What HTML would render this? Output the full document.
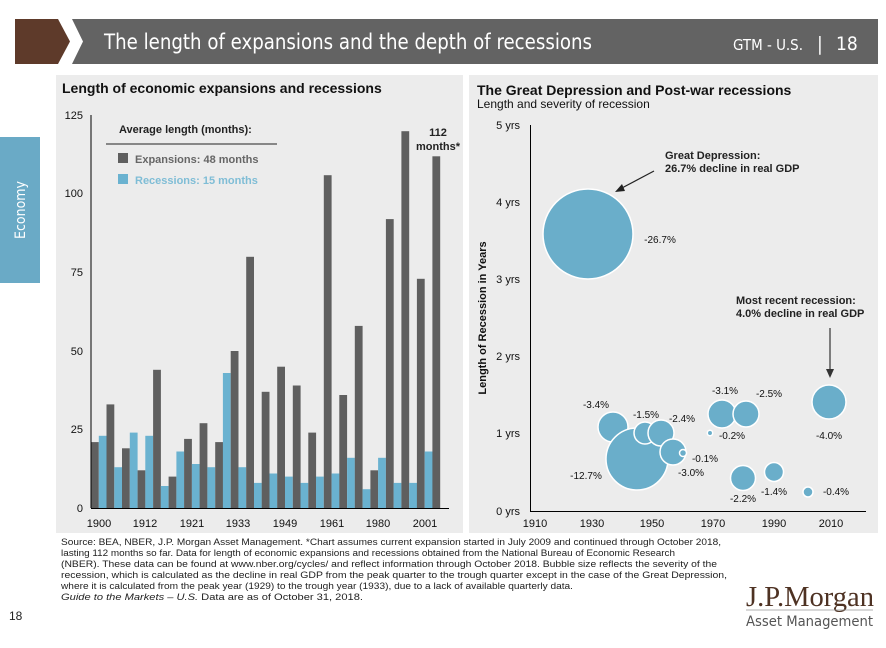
<!DOCTYPE html>
<html><head><meta charset="utf-8"><style>
body{margin:0;width:886px;height:643px;background:#fff;overflow:hidden;font-family:"Liberation Sans",Arial,sans-serif}
</style></head><body>
<svg width="886" height="643" xmlns="http://www.w3.org/2000/svg" font-family="Liberation Sans, Arial, sans-serif">
<polygon points="72,19 878,19 878,64 72,64 83,41.5" fill="#636363"/>
<polygon points="15,19 58,19 70,41.5 58,64 15,64" fill="#5e3a2a"/>
<text x="104" y="49" fill="#fff" font-size="21" font-family="DejaVu Sans Condensed, Liberation Sans Narrow, sans-serif" textLength="488" lengthAdjust="spacingAndGlyphs">The length of expansions and the depth of recessions</text>
<text x="733" y="50" fill="#fff" font-size="15" font-family="DejaVu Sans Condensed, sans-serif" textLength="70" lengthAdjust="spacingAndGlyphs">GTM - U.S.</text>
<text x="817" y="50" fill="#fff" font-size="19" font-family="DejaVu Sans Condensed, sans-serif">|</text>
<text x="836" y="50" fill="#fff" font-size="19" font-family="DejaVu Sans Condensed, sans-serif">18</text>
<rect x="0" y="137" width="40" height="146" fill="#6aaac6"/>
<text transform="translate(25,210) rotate(-90)" fill="#fff" font-size="14" text-anchor="middle" font-family="DejaVu Sans Condensed, sans-serif">Economy</text>
<rect x="56" y="75" width="407" height="458" fill="#ececec"/>
<rect x="469" y="75" width="409" height="458" fill="#ececec"/>
<text x="62" y="93" font-size="14" font-weight="bold" fill="#111">Length of economic expansions and recessions</text>
<text x="477" y="95" font-size="14" font-weight="bold" fill="#111">The Great Depression and Post-war recessions</text>
<text x="477" y="108" font-size="12" fill="#111">Length and severity of recession</text>
<g>
<rect x="91.0" y="442.1" width="7.8" height="65.9" fill="#5f5f5f"/>
<rect x="98.8" y="435.8" width="7.8" height="72.2" fill="#6ab2d0"/>
<rect x="106.5" y="404.4" width="7.8" height="103.6" fill="#5f5f5f"/>
<rect x="114.3" y="467.2" width="7.8" height="40.8" fill="#6ab2d0"/>
<rect x="122.0" y="448.3" width="7.8" height="59.7" fill="#5f5f5f"/>
<rect x="129.8" y="432.6" width="7.8" height="75.4" fill="#6ab2d0"/>
<rect x="137.6" y="470.3" width="7.8" height="37.7" fill="#5f5f5f"/>
<rect x="145.3" y="435.8" width="7.8" height="72.2" fill="#6ab2d0"/>
<rect x="153.1" y="369.8" width="7.8" height="138.2" fill="#5f5f5f"/>
<rect x="160.8" y="486.0" width="7.8" height="22.0" fill="#6ab2d0"/>
<rect x="168.6" y="476.6" width="7.8" height="31.4" fill="#5f5f5f"/>
<rect x="176.4" y="451.5" width="7.8" height="56.5" fill="#6ab2d0"/>
<rect x="184.1" y="438.9" width="7.8" height="69.1" fill="#5f5f5f"/>
<rect x="191.9" y="464.0" width="7.8" height="44.0" fill="#6ab2d0"/>
<rect x="199.6" y="423.2" width="7.8" height="84.8" fill="#5f5f5f"/>
<rect x="207.4" y="467.2" width="7.8" height="40.8" fill="#6ab2d0"/>
<rect x="215.2" y="442.1" width="7.8" height="65.9" fill="#5f5f5f"/>
<rect x="222.9" y="373.0" width="7.8" height="135.0" fill="#6ab2d0"/>
<rect x="230.7" y="351.0" width="7.8" height="157.0" fill="#5f5f5f"/>
<rect x="238.4" y="467.2" width="7.8" height="40.8" fill="#6ab2d0"/>
<rect x="246.2" y="256.8" width="7.8" height="251.2" fill="#5f5f5f"/>
<rect x="254.0" y="482.9" width="7.8" height="25.1" fill="#6ab2d0"/>
<rect x="261.7" y="391.8" width="7.8" height="116.2" fill="#5f5f5f"/>
<rect x="269.5" y="473.5" width="7.8" height="34.5" fill="#6ab2d0"/>
<rect x="277.2" y="366.7" width="7.8" height="141.3" fill="#5f5f5f"/>
<rect x="285.0" y="476.6" width="7.8" height="31.4" fill="#6ab2d0"/>
<rect x="292.8" y="385.5" width="7.8" height="122.5" fill="#5f5f5f"/>
<rect x="300.5" y="482.9" width="7.8" height="25.1" fill="#6ab2d0"/>
<rect x="308.3" y="432.6" width="7.8" height="75.4" fill="#5f5f5f"/>
<rect x="316.0" y="476.6" width="7.8" height="31.4" fill="#6ab2d0"/>
<rect x="323.8" y="175.2" width="7.8" height="332.8" fill="#5f5f5f"/>
<rect x="331.6" y="473.5" width="7.8" height="34.5" fill="#6ab2d0"/>
<rect x="339.3" y="395.0" width="7.8" height="113.0" fill="#5f5f5f"/>
<rect x="347.1" y="457.8" width="7.8" height="50.2" fill="#6ab2d0"/>
<rect x="354.8" y="325.9" width="7.8" height="182.1" fill="#5f5f5f"/>
<rect x="362.6" y="489.2" width="7.8" height="18.8" fill="#6ab2d0"/>
<rect x="370.4" y="470.3" width="7.8" height="37.7" fill="#5f5f5f"/>
<rect x="378.1" y="457.8" width="7.8" height="50.2" fill="#6ab2d0"/>
<rect x="385.9" y="219.1" width="7.8" height="288.9" fill="#5f5f5f"/>
<rect x="393.6" y="482.9" width="7.8" height="25.1" fill="#6ab2d0"/>
<rect x="401.4" y="131.2" width="7.8" height="376.8" fill="#5f5f5f"/>
<rect x="409.2" y="482.9" width="7.8" height="25.1" fill="#6ab2d0"/>
<rect x="416.9" y="278.8" width="7.8" height="229.2" fill="#5f5f5f"/>
<rect x="424.7" y="451.5" width="7.8" height="56.5" fill="#6ab2d0"/>
<rect x="432.4" y="156.3" width="7.8" height="351.7" fill="#5f5f5f"/>
</g>
<line x1="91" y1="115" x2="91" y2="508" stroke="#000"/>
<line x1="91" y1="508.5" x2="449" y2="508.5" stroke="#000"/>
<g font-size="11" fill="#111" text-anchor="end">
<text x="83" y="119">125</text><text x="83" y="197">100</text><text x="83" y="276">75</text><text x="83" y="355">50</text><text x="83" y="433">25</text><text x="83" y="512">0</text>
</g>
<g font-size="11" fill="#111" text-anchor="middle">
<text x="99" y="527">1900</text><text x="145" y="527">1912</text><text x="192" y="527">1921</text><text x="238" y="527">1933</text><text x="285" y="527">1949</text><text x="332" y="527">1961</text><text x="378" y="527">1980</text><text x="425" y="527">2001</text>
</g>
<text x="119" y="133" font-size="11" font-weight="bold" fill="#222">Average length (months):</text>
<line x1="106" y1="144" x2="277" y2="144" stroke="#222"/>
<rect x="118" y="153" width="10" height="10" fill="#5f5f5f"/>
<text x="135" y="163" font-size="11" font-weight="bold" fill="#666">Expansions: 48 months</text>
<rect x="118" y="174" width="10" height="10" fill="#6ab2d0"/>
<text x="135" y="184" font-size="11" font-weight="bold" fill="#7fbdd6">Recessions: 15 months</text>
<text x="438" y="136" font-size="11" font-weight="bold" fill="#222" text-anchor="middle">112</text>
<text x="438" y="150" font-size="11" font-weight="bold" fill="#222" text-anchor="middle">months*</text>
<line x1="530.5" y1="125" x2="530.5" y2="511" stroke="#000"/>
<line x1="530" y1="511.5" x2="866" y2="511.5" stroke="#000"/>
<g font-size="11" fill="#111" text-anchor="end">
<text x="520" y="129">5 yrs</text><text x="520" y="206">4 yrs</text><text x="520" y="283">3 yrs</text><text x="520" y="360">2 yrs</text><text x="520" y="437">1 yrs</text><text x="520" y="515">0 yrs</text>
</g>
<g font-size="11" fill="#111" text-anchor="middle">
<text x="535" y="527">1910</text><text x="592" y="527">1930</text><text x="652" y="527">1950</text><text x="713" y="527">1970</text><text x="774" y="527">1990</text><text x="831" y="527">2010</text>
</g>
<text transform="translate(486,318) rotate(-90)" font-size="11" font-weight="bold" fill="#111" text-anchor="middle">Length of Recession in Years</text>
<g fill="#6aaeca" stroke="#fff" stroke-width="1.5">
<circle cx="588" cy="234" r="45"/>
<circle cx="613" cy="427" r="15"/>
<circle cx="637" cy="459" r="31"/>
<circle cx="645" cy="433" r="11"/>
<circle cx="661" cy="433" r="13"/>
<circle cx="673" cy="452" r="13"/>
<circle cx="683" cy="453" r="3.5"/>
<circle cx="710" cy="433" r="2.7"/>
<circle cx="722" cy="414" r="14"/>
<circle cx="746" cy="414" r="13"/>
<circle cx="743" cy="478" r="12.5"/>
<circle cx="774" cy="472" r="9.5"/>
<circle cx="808" cy="492" r="5"/>
<circle cx="829" cy="402" r="17"/>
</g>
<g font-size="10" fill="#111" text-anchor="middle">
<text x="660" y="243">-26.7%</text>
<text x="596" y="408">-3.4%</text>
<text x="646" y="418">-1.5%</text>
<text x="682" y="422">-2.4%</text>
<text x="586" y="479">-12.7%</text>
<text x="691" y="476">-3.0%</text>
<text x="705" y="462">-0.1%</text>
<text x="732" y="439">-0.2%</text>
<text x="725" y="394">-3.1%</text>
<text x="769" y="397">-2.5%</text>
<text x="743" y="502">-2.2%</text>
<text x="774" y="495">-1.4%</text>
<text x="836" y="495">-0.4%</text>
<text x="829" y="439">-4.0%</text>
</g>
<g font-size="11" font-weight="bold" fill="#222">
<text x="665" y="159">Great Depression:</text>
<text x="665" y="172">26.7% decline in real GDP</text>
<text x="736" y="304">Most recent recession:</text>
<text x="736" y="317">4.0% decline in real GDP</text>
</g>
<line x1="654" y1="171" x2="620" y2="189" stroke="#222" stroke-width="1.2"/>
<polygon points="615,192 622,184 625,191" fill="#222"/>
<line x1="830" y1="328" x2="830" y2="370" stroke="#333" stroke-width="1.2"/>
<polygon points="826,369 834,369 830,378" fill="#333"/>
<g font-size="9" fill="#222" lengthAdjust="spacingAndGlyphs">
<text x="61" y="545" textLength="660" lengthAdjust="spacingAndGlyphs">Source: BEA, NBER, J.P. Morgan Asset Management. *Chart assumes current expansion started in July 2009 and continued through October 2018,</text>
<text x="61" y="556" textLength="614" lengthAdjust="spacingAndGlyphs">lasting 112 months so far. Data for length of economic expansions and recessions obtained from the National Bureau of Economic Research</text>
<text x="61" y="567" textLength="656" lengthAdjust="spacingAndGlyphs">(NBER). These data can be found at www.nber.org/cycles/ and reflect information through October 2018. Bubble size reflects the severity of the</text>
<text x="61" y="578" textLength="666" lengthAdjust="spacingAndGlyphs">recession, which is calculated as the decline in real GDP from the peak quarter to the trough quarter except in the case of the Great Depression,</text>
<text x="61" y="589" textLength="512" lengthAdjust="spacingAndGlyphs">where it is calculated from the peak year (1929) to the trough year (1933), due to a lack of available quarterly data.</text>
<text x="61" y="600" textLength="302" lengthAdjust="spacingAndGlyphs"><tspan font-style="italic">Guide to the Markets – U.S.</tspan> Data are as of October 31, 2018.</text>
</g>
<text x="9" y="620" font-size="12" fill="#222">18</text>
<text x="746" y="606" font-size="28" fill="#4e3223" font-family="Liberation Serif, serif" textLength="128" lengthAdjust="spacingAndGlyphs">J.P.Morgan</text>
<line x1="746" y1="610" x2="873" y2="610" stroke="#999" stroke-width="0.8"/>
<text x="746" y="626" font-size="14" fill="#555" font-family="DejaVu Sans Condensed, sans-serif" textLength="127" lengthAdjust="spacingAndGlyphs">Asset Management</text>
</svg>
</body></html>
